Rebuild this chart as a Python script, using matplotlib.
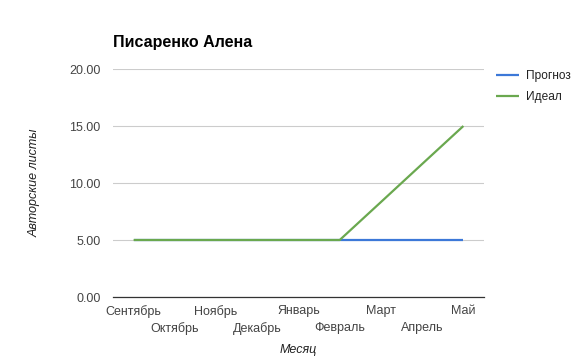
import matplotlib
matplotlib.use("Agg")
import matplotlib.pyplot as plt

plt.rcParams['font.family'] = ['Liberation Sans', 'DejaVu Sans']

months = ["Сентябрь", "Октябрь", "Ноябрь", "Декабрь", "Январь",
          "Февраль", "Март", "Апрель", "Май"]
forecast = [5, 5, 5, 5, 5, 5, 5, 5, 5]
ideal = [5, 5, 5, 5, 5, 5, 8.33, 11.67, 15]
yticks = [0, 5, 10, 15, 20]

fig = plt.figure(figsize=(5.75, 3.59), dpi=100)
ax = fig.add_axes([113 / 575, 1 - 297 / 359, 371 / 575, 228 / 359])

x = list(range(len(months)))
ax.plot(x, forecast, color="#3c78d8", lw=1.6, label="Прогноз", solid_capstyle="butt")
ax.plot(x, ideal, color="#6aa84f", lw=1.6, label="Идеал", solid_capstyle="butt")

ax.set_xlim(-0.5, len(months) - 0.5)
ax.set_ylim(0, 20)
ax.set_yticks(yticks)
ax.set_yticklabels(["%.2f" % v for v in yticks])

# alternate rows: even months on major ticks, odd months on minor ticks
ax.set_xticks(x[0::2])
ax.set_xticklabels(months[0::2])
ax.set_xticks(x[1::2], minor=True)
ax.set_xticklabels(months[1::2], minor=True)

ax.grid(axis="y", color="#cccccc", lw=0.8)
ax.set_axisbelow(True)
for s in ["top", "right", "left"]:
    ax.spines[s].set_visible(False)
ax.spines["bottom"].set_color("#333333")
ax.spines["bottom"].set_linewidth(0.9)
ax.tick_params(axis="both", which="both", length=0, labelsize=9, labelcolor="#444444")
ax.tick_params(axis="x", which="major", pad=6)
ax.tick_params(axis="x", which="minor", pad=18)
ax.tick_params(axis="y", pad=9)

fig.text(35 / 575, 1 - 183 / 359, "Авторские листы", rotation=90, style="italic",
         fontsize=9, color="#222222", ha="center", va="center")
fig.text(298 / 575, 1 - 350 / 359, "Месяц", style="italic",
         fontsize=9, color="#222222", ha="center", va="center")
fig.text(113 / 575, 1 - 43 / 359, "Писаренко Алена", fontweight="bold",
         fontsize=11.5, color="#000000", ha="left", va="center")

ax.legend(loc="upper left", bbox_to_anchor=(491 / 575, 1 - 65 / 359),
          bbox_transform=fig.transFigure, frameon=False, fontsize=8.6,
          handlelength=1.95, handletextpad=0.6, labelspacing=0.78,
          labelcolor="#222222", borderaxespad=0)

fig.savefig("out.png", dpi=100)
